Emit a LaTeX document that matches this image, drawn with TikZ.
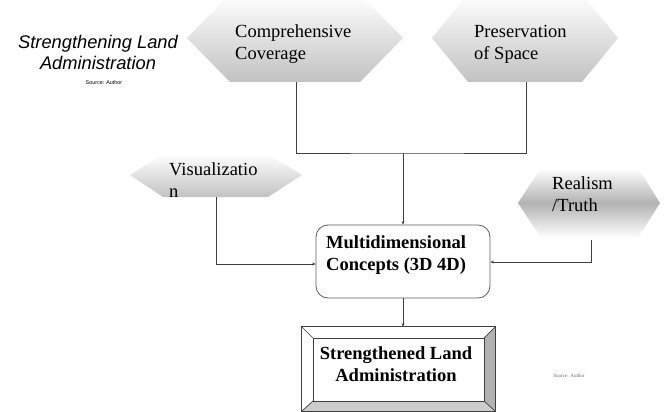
\documentclass[tikz,border=0pt]{standalone}
\usepackage{fontspec}
\setmainfont{Liberation Serif}
\setsansfont{Liberation Sans}
\usetikzlibrary{arrows.meta}
\definecolor{ln}{HTML}{404040}
\begin{document}
\begin{tikzpicture}[x=1pt,y=-1pt,
  conn/.style={draw=ln, line width=0.8pt},
  arr/.style={conn, -{Stealth[length=3.5pt,width=3pt]}},
  hex/.style={draw=none, top color=white, bottom color=black!24},
  lbl/.style={font=\fontsize{18.5}{22}\selectfont, align=left, anchor=west, inner sep=0pt},
  blbl/.style={lbl, font=\fontsize{18.5}{22}\selectfont\bfseries},
]
\useasboundingbox (0,0) rectangle (667,412);
\begin{scope}
\clip (0,0) rectangle (667,412);
% hexagons
\path[hex] (187,38) -- (230,-6) -- (360,-6) -- (403,38) -- (360,82) -- (230,82) -- cycle;
\path[hex] (432,38) -- (468,-6) -- (582,-6) -- (618,38) -- (582,82) -- (468,82) -- cycle;
\path[hex] (130,175) -- (163,154) -- (268,154) -- (302,175) -- (268,197) -- (163,197) -- cycle;
\path[draw=none, top color=white, bottom color=white, middle color=black!30]
  (518,203) -- (541,168) -- (638,168) -- (660,203) -- (638,238) -- (541,238) -- cycle;
\end{scope}

% hexagon texts
\node[lbl] (cc) at (235,44.5) {Comprehensive\\Coverage};
\node[lbl] (ps) at (474,44) {Preservation\\of Space};
\node[lbl] (vis) at (169,180) {Visualizatio\\n};
\node[lbl] (rt) at (552,194) {Realism\\/Truth};

% central box
\node[draw=ln!85, rounded corners=12pt, minimum width=174pt, minimum height=73pt,
      line width=0.8pt, inner sep=0pt] (md) at (403,261.5) {};
\node[blbl] (mdt) at (326,255.5) {Multidimensional\\Concepts (3D 4D)};

% bevelled box
\node[minimum width=193pt, minimum height=84pt, inner sep=0pt] (sla) at (398.5,369) {};
\coordinate (i1) at (313,338);
\coordinate (i2) at (484,338);
\coordinate (i3) at (484,401);
\coordinate (i4) at (313,401);
\fill[black!30] (sla.north east) -- (sla.south east) -- (i3) -- (i2) -- cycle;
\fill[black!20] (sla.south west) -- (sla.south east) -- (i3) -- (i4) -- cycle;
\draw[ln, line width=0.7pt] (i1) rectangle (i3);
\draw[ln, line width=0.7pt] (sla.north west) -- (i1) (sla.north east) -- (i2)
  (sla.south east) -- (i3) (sla.south west) -- (i4);
\draw[ln, line width=0.8pt] (sla.north west) rectangle (sla.south east);
\node[blbl, anchor=center, align=center] (slat) at (396,364) {Strengthened Land\\Administration};

% connector points
\coordinate (ccb) at (296,82);
\coordinate (psb) at (526,82);
\coordinate (j) at (403,153);
\coordinate (visb) at (216,197);
\coordinate (rtb) at (591,240);
\coordinate (vy) at (0,264);
\coordinate (ry) at (0,262);

\draw[conn] (ccb) |- (j) -| (psb);
\draw[arr] (j) -- (md.north);
\draw[arr] (visb) |- (md.west |- vy);
\draw[arr] (rtb) |- (md.east |- ry);
\draw[arr] (md.south) -- (md.south |- sla.north);

% titles
\node[font=\sffamily\itshape\fontsize{18.3}{21}\selectfont, align=center, inner sep=0pt]
  (title) at (98,52.5) {Strengthening Land\\Administration};
\node[font=\sffamily\fontsize{5.4}{6}\selectfont, inner sep=0pt] (src1) at (104,83) {Source: Author};
\node[font=\fontsize{5}{6}\selectfont, text=black!60, inner sep=0pt] (src2) at (569,376) {Source: Author};
\end{tikzpicture}
\end{document}
